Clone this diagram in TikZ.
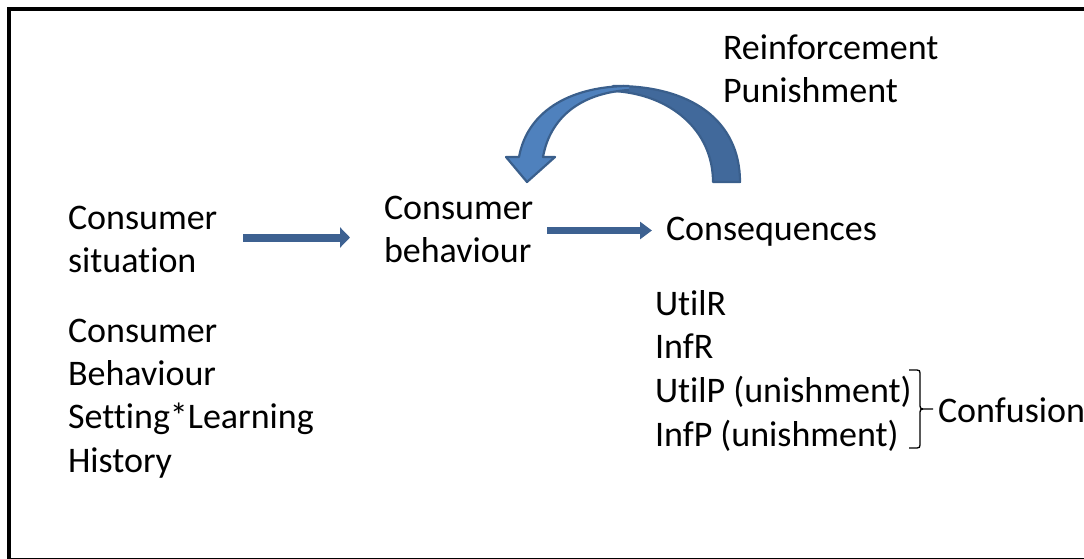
\documentclass[tikz,border=0pt]{standalone}
\usepackage{fontspec}
\setmainfont{Carlito}[Ligatures={NoCommon}]
\usetikzlibrary{arrows.meta}
\definecolor{arrowblue}{HTML}{3D6191}
\definecolor{bandlight}{HTML}{4F81BD}
\definecolor{banddark}{HTML}{41699B}
\definecolor{bandedge}{HTML}{3A5F8C}
\begin{document}
\begin{tikzpicture}[x=1pt,y=-1pt,
  lbl/.style={anchor=base west, inner sep=0pt, outer sep=0pt, font=\fontsize{36}{43.5}\selectfont},
  blockarrow/.style={draw=arrowblue, line width=#1},
  bandstroke/.style={draw=bandedge, line width=2.2pt, line join=round}]
\useasboundingbox (0,0) rectangle (1084,559);

% outer frame, running past the right and bottom edges
\begin{scope}
  \clip (0,0) rectangle (1084,559);
  \draw[line width=4pt] (8.5,9) rectangle (1120,559.5);
\end{scope}

% left column
\node[lbl] (sit1) at (68,229) {Consumer};
\node[lbl] (sit2) at (68,272) {situation};
\node[lbl] (set1) at (68,342) {Consumer};
\node[lbl] (set2) at (68,385) {Behaviour};
\node[lbl] (set3) at (68,428) {Setting*Learning};
\node[lbl] (set4) at (68,472) {History};

% middle
\node[lbl] (beh1) at (384,219) {Consumer};
\node[lbl] (beh2) at (384,262) {behaviour};

% right column
\node[lbl] (cons) at (666,240) {Consequences};
\node[lbl] (reinf) at (723,60) {Reinforcement};
\node[lbl] (pun) at (723,103) {Punishment};
\node[lbl] (utilr) at (655,315) {UtilR};
\node[lbl] (infr) at (655,358) {InfR};
\node[lbl] (utilp) at (655,402) {UtilP (unishment)};
\node[lbl] (infp) at (655,446) {InfP (unishment)};
\node[lbl] (conf) at (938,422) {Confusion};

% straight block arrows
\coordinate (a1s) at (243,237.5);
\coordinate (a1e) at (350,237.5);
\coordinate (a2s) at (547,230.5);
\coordinate (a2e) at (652,230.5);
\draw[blockarrow=8pt, -{Triangle[length=10pt,width=20pt]}, arrowblue] (a1s) -- (a1e);
\draw[blockarrow=7pt, -{Triangle[length=12pt,width=17pt]}, arrowblue] (a2s) -- (a2e);

% curved arrow: back band (tail)
\filldraw[fill=banddark, bandstroke]
  (613,86) .. controls (690,85) and (740,120) .. (740,182)
  -- (713,182) .. controls (713,130) and (670,94) .. (613,91) -- cycle;
% curved arrow: front band with head
\fill[bandlight]
  (629,86) .. controls (575,86) and (528,108) .. (519,157)
  -- (506,157) -- (527,182) -- (555,157) -- (543,157)
  .. controls (550,118) and (580,93) .. (629,90) -- cycle;
\draw[bandstroke]
  (629,86) .. controls (575,86) and (528,108) .. (519,157)
  -- (506,157) -- (527,182) -- (555,157) -- (543,157)
  .. controls (550,118) and (580,93) .. (629,90);

% bracket grouping the two punishment lines
\draw[line width=1.3pt, line join=round]
  (909,370) -- (917,370) .. controls (919.5,370) and (920,371) .. (920,373)
  -- (920,406) .. controls (920,408) and (921,409) .. (923,409) -- (933,409);
\draw[line width=1.3pt, line join=round]
  (909,448) -- (917,448) .. controls (919.5,448) and (920,447) .. (920,445)
  -- (920,412) .. controls (920,410) and (921,409) .. (923,409);
\end{tikzpicture}
\end{document}
